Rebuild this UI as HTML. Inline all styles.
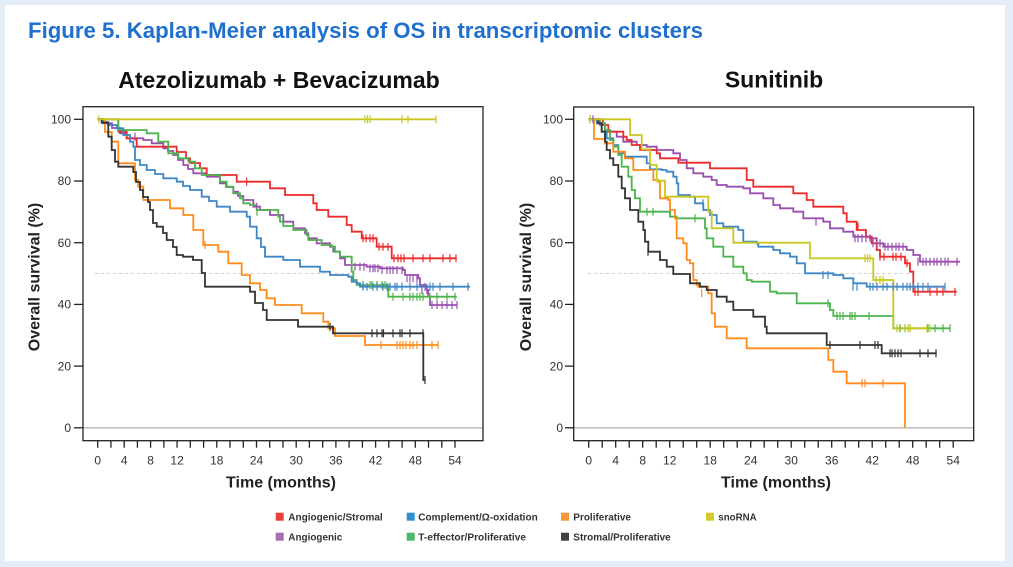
<!DOCTYPE html>
<html>
<head>
<meta charset="utf-8">
<style>
html,body{margin:0;padding:0;background:#e5eef8;}
svg{display:block;}
text{font-family:"Liberation Sans",Arial,sans-serif;}
</style>
</head>
<body>
<svg width="1013" height="567" viewBox="0 0 1013 567" xmlns="http://www.w3.org/2000/svg">
<rect x="0" y="0" width="1013" height="567" fill="#e5eef8"/>
<rect x="5" y="5" width="1000" height="556" fill="#ffffff"/>

<text x="28" y="38" font-size="22" font-weight="bold" fill="#1f6fcf" textLength="675" lengthAdjust="spacingAndGlyphs">Figure 5. Kaplan-Meier analysis of OS in transcriptomic clusters</text>

<text x="279" y="88" font-size="23" font-weight="bold" fill="#111" text-anchor="middle">Atezolizumab + Bevacizumab</text>
<text x="774" y="87.5" font-size="23" font-weight="bold" fill="#111" text-anchor="middle">Sunitinib</text>

<!-- ===== LEFT CHART ===== -->
<g>
<line x1="83" y1="427.8" x2="483" y2="427.8" stroke="#b5b5b5" stroke-width="1.3"/>
<line x1="95" y1="273.5" x2="355" y2="273.5" stroke="#d0d0d0" stroke-width="1" stroke-dasharray="3,3"/>
<g fill="none" stroke-width="1.8" stroke-linejoin="miter">
<path stroke="#9a4fb0" d="M97.7,119.3 H103.3 V123.3 H112 V128 H120 V133.3 H126.7 V138.3 H143.3 V140 H151.7 V143.3 H163.3 V148.3 H168 V151 H173.3 V155 H178 V160 H183.3 V165 H188 V169 H193.3 V173.3 H206.7 V176.7 H220 V183.3 H226 V187 H233.3 V191.7 H238 V196 H243.3 V200 H253.3 V206.7 H260 V210 H270 V215 H283.3 V221.7 H293.3 V228.3 H305 V233.3 H308.3 V238.3 H316.7 V243.3 H330 V246.7 H333.3 V251.7 H340 V258.3 H345 V265 H366.7 V266.7 H380 V268.3 H403.3 V270 H405 V275 H418.3 V278.3 H420 V285 H426.7 V290 H428.3 V296.7 H430 V305 H456.7"/>
<path stroke="#ee2a2a" d="M97.7,119.3 H118.3 V131.7 H126.7 V138.3 H136.7 V146.7 H176.7 V152 H186 V158.3 H190 V163 H200 V168.3 H206.7 V175 H236.7 V181.7 H270 V188.3 H285 V195 H313.3 V203.3 H316.7 V210 H328.3 V216.7 H346.7 V225 H351.7 V231.7 H361.7 V238.3 H376.7 V246.7 H391.7 V258.3 H456.7"/>
<path stroke="#4db34d" d="M97.7,119.3 H118.3 V130 H146.7 V133.3 H158.3 V141.7 H168.3 V153.3 H178.3 V158.3 H188.3 V161.7 H195 V168.3 H201.7 V175 H220 V181.7 H226.7 V186.7 H233.3 V193.3 H240 V198.3 H243.3 V203.3 H250 V205 H256.7 V210 H278.3 V216.7 H280 V221.7 H283.3 V226 H293.3 V230 H306.7 V235 H308.3 V240 H321.7 V245 H331.7 V246.7 H335 V251.7 H340 V256.7 H351.7 V271.7 H353.3 V280 H356.7 V285 H388.3 V296.7 H456.7"/>
<path stroke="#3f86c5" d="M97.7,119.3 H103 V122 H108 V125 H116.7 V128.3 H123.3 V135 H130 V141.7 H133.3 V146.7 H135 V160 H140 V165 H146.7 V170 H155 V174 H163.3 V178.3 H176.7 V181.7 H183 V186 H190 V190 H201.7 V196.7 H209 V201 H216.7 V206.7 H230 V211.7 H246.7 V216.7 H250 V226.7 H256.7 V238.3 H261 V247 H265 V256.7 H283.3 V260 H300 V266.7 H320 V271.7 H330 V275 H348.3 V276.7 H351.7 V281.7 H356.7 V283.3 H360 V286.7 H470"/>
<path stroke="#ff8c1a" d="M97.7,119.3 H105 V132 H111.7 V141.7 H118.3 V163.3 H135 V180 H138.3 V186.7 H143.3 V200 H170 V208.3 H183.3 V215 H193.3 V230 H203.3 V245 H218.3 V251.7 H228.3 V263.3 H241.7 V275 H250 V283.3 H260 V290 H266.7 V298.3 H275 V305 H301.7 V313.3 H323.3 V321.7 H328.3 V328.3 H335 V336 H365 V345 H438.3"/>
<path stroke="#333333" d="M97.7,119.3 H101.7 V122.7 H108.3 V136.7 H111.7 V150 H115 V161.7 H118.3 V166.7 H133.3 V172 H136 V182 H140 V190 H143 V197 H148 V202 H150 V210 H153 V223 H156.7 V226.7 H163 V233 H166.7 V240 H173 V247 H176.7 V255 H183 V256.7 H193 V260 H201.7 V273 H205 V286.7 H250 V291.7 H255 V303 H263 V310 H266.7 V320 H298 V326.7 H333 V333.3 H423.3 V380 H425"/>
<path stroke="#c8c81e" d="M97.7,119.3 H436"/>
</g>
<g fill="none" stroke-width="1.2">
<path stroke="#9a4fb0" d="M355,262.7v8M360,262.7v8M364,262.7v8M370,264.3v8M373,264.3v8M375,264.3v8M378,264.3v8M382,266v8M387,266v8M390,266v8M393,266v8M397,266v8M402,266v8M407,274.3v8M410,274.3v8M413,274.3v8M417,274.3v8M422,286v8M427,286v8M432,301v8M437,301v8M442,301v8M447,301v8M452,301v8M457,301v8M135,132.7v8M256.7,202.7v8"/>
<path stroke="#ee2a2a" d="M363,234.3v8M366,234.3v8M370,234.3v8M373,234.3v8M379,242.7v8M383,242.7v8M388,242.7v8M394,254.3v8M398,254.3v8M401,254.3v8M404,254.3v8M413,254.3v8M423,254.3v8M430,254.3v8M443,254.3v8M450,254.3v8M456,254.3v8M246.7,177.7v8"/>
<path stroke="#4db34d" d="M363,281v8M370,281v8M372,281v8M377,281v8M382,281v8M385,281v8M393,292.7v8M403,292.7v8M410,292.7v8M413,292.7v8M417,292.7v8M420,292.7v8M423,292.7v8M430,292.7v8M437,292.7v8M447,292.7v8M455,292.7v8M257,207.7v8"/>
<path stroke="#3f86c5" d="M363,282.7v8M367,282.7v8M373,282.7v8M377,282.7v8M383,282.7v8M387,282.7v8M390,282.7v8M395,282.7v8M397,282.7v8M402,282.7v8M410,282.7v8M417,282.7v8M425,282.7v8M430,282.7v8M433,282.7v8M440,282.7v8M453,282.7v8M468,282.7v8"/>
<path stroke="#ff8c1a" d="M381,341v8M397,341v8M400,341v8M403,341v8M406,341v8M410,341v8M413,341v8M417,341v8M432,341v8M438,341v8M205,241v8"/>
<path stroke="#333333" d="M372,329.3v8M377,329.3v8M382,329.3v8M383.5,329.3v8M393,329.3v8M400,329.3v8M402,329.3v8M410,329.3v8M423,329.3v8M330,322.7v8M425,376v8"/>
<path stroke="#c8c81e" d="M99,115.3v8M365,115.3v8M367.5,115.3v8M370,115.3v8M402,115.3v8M408,115.3v8M436,115.3v8"/>
</g>
<rect x="83" y="106.7" width="400" height="334" fill="none" stroke="#222" stroke-width="1.3"/>
<g stroke="#222" stroke-width="1.3">
<line x1="74" y1="427.8" x2="83" y2="427.8"/>
<line x1="74" y1="366.1" x2="83" y2="366.1"/>
<line x1="74" y1="304.4" x2="83" y2="304.4"/>
<line x1="74" y1="242.7" x2="83" y2="242.7"/>
<line x1="74" y1="181" x2="83" y2="181"/>
<line x1="74" y1="119.3" x2="83" y2="119.3"/>
<path d="M97.7,440.7v7M110.9,440.7v7M124.2,440.7v7M137.4,440.7v7M150.6,440.7v7M163.9,440.7v7M177.1,440.7v7M190.3,440.7v7M203.6,440.7v7M216.8,440.7v7M230,440.7v7M243.3,440.7v7M256.5,440.7v7M269.7,440.7v7M283,440.7v7M296.2,440.7v7M309.4,440.7v7M322.7,440.7v7M335.9,440.7v7M349.1,440.7v7M362.4,440.7v7M375.6,440.7v7M388.8,440.7v7M402.1,440.7v7M415.3,440.7v7M428.5,440.7v7M441.8,440.7v7M455,440.7v7"/>
</g>
<g font-size="12" fill="#333" text-anchor="end">
<text x="71" y="432">0</text>
<text x="71" y="370.3">20</text>
<text x="71" y="308.6">40</text>
<text x="71" y="246.9">60</text>
<text x="71" y="185.2">80</text>
<text x="71" y="123.5">100</text>
</g>
<g font-size="12" fill="#333" text-anchor="middle">
<text x="97.7" y="464.5">0</text>
<text x="124.2" y="464.5">4</text>
<text x="150.6" y="464.5">8</text>
<text x="177.1" y="464.5">12</text>
<text x="216.8" y="464.5">18</text>
<text x="256.5" y="464.5">24</text>
<text x="296.2" y="464.5">30</text>
<text x="335.9" y="464.5">36</text>
<text x="375.6" y="464.5">42</text>
<text x="415.3" y="464.5">48</text>
<text x="455" y="464.5">54</text>
</g>
<text x="281" y="487.5" font-size="16" font-weight="bold" fill="#222" text-anchor="middle">Time (months)</text>
<text transform="translate(39.5,277) rotate(-90)" font-size="16" font-weight="bold" fill="#222" text-anchor="middle">Overall survival (%)</text>
</g>

<!-- ===== RIGHT CHART ===== -->
<g>
<line x1="573.7" y1="427.8" x2="973.7" y2="427.8" stroke="#b5b5b5" stroke-width="1.3"/>
<line x1="588" y1="273.5" x2="910" y2="273.5" stroke="#d0d0d0" stroke-width="1" stroke-dasharray="3,3"/>
<g fill="none" stroke-width="1.8">
<path stroke="#9a4fb0" d="M588.7,119.3 H600 V125 H605 V130 H610 V131.7 H616.7 V136.7 H623.3 V141.7 H636.7 V145 H646.7 V146.7 H656.7 V150 H673.3 V153.3 H680 V160 H686.7 V168.3 H693.3 V173.3 H703.3 V176.7 H711.7 V180 H716.7 V185 H726.7 V186.7 H743.3 V188.3 H750 V193.3 H763.3 V198.3 H773.3 V205 H780 V208.3 H793.3 V211.7 H803.3 V218.3 H823.3 V221.7 H830 V228.3 H843.3 V231.7 H853.3 V236.7 H870 V238.3 H876.7 V243.3 H883.3 V246.7 H906.7 V250 H913.3 V255 H920 V261.7 H960"/>
<path stroke="#ee2a2a" d="M588.7,119.3 H603 V125 H608.3 V131.7 H623.3 V136.7 H626.7 V140 H631.7 V145 H640 V150 H656.7 V153.3 H660 V158.3 H678.3 V162.7 H710 V168.3 H746.7 V180 H753.3 V186.7 H793.3 V193.3 H806.7 V200 H813.3 V206.7 H843.3 V213.3 H846.7 V221.7 H856.7 V230 H866 V236.7 H871.7 V243.3 H876.7 V250 H880 V256.7 H905 V263.3 H910 V271.7 H913.3 V291.7 H956.7"/>
<path stroke="#3f86c5" d="M588.7,119.3 H596.7 V123.3 H601.7 V131.7 H606.7 V138.3 H613.3 V145 H618.3 V153.3 H625 V156.7 H646.7 V163.3 H650 V169.3 H661.7 V170 H666.7 V171.7 H673.3 V176.7 H676.7 V183.3 H678.3 V195 H690 V196.7 H695 V203.3 H703.3 V210 H710 V215 H716.7 V223.3 H723.3 V226.7 H738.3 V230 H743.3 V241.7 H756.7 V243.3 H758.3 V246.7 H773.3 V250 H780 V253.3 H790 V256.7 H796.7 V263.3 H805 V273.3 H833.3 V275 H843.3 V278.3 H853.3 V283.3 H866.7 V286.7 H945"/>
<path stroke="#4db34d" d="M588.7,119.3 H600 V123.3 H605 V130 H610 V140 H613.3 V146.7 H618.3 V155 H621.7 V166.7 H628.3 V176.7 H631.7 V190 H635 V198.3 H640 V211.7 H670 V216.7 H676.7 V218.3 H705 V228.3 H706.7 V238.3 H713.3 V246.7 H723.3 V256.7 H733.3 V266.7 H743.3 V273.3 H746.7 V280 H751.7 V281.7 H770 V291.7 H776.7 V293.3 H796.7 V303.3 H830 V310 H833.3 V316 H893.3 V328.3 H950"/>
<path stroke="#ff8c1a" d="M588.7,119.3 H593.3 V121.7 H594 V139 H605 V143.3 H613.3 V151.7 H625 V158.3 H633.3 V170 H653.3 V180 H658.3 V181.7 H660 V198.3 H668.3 V200 H670 V210 H675 V218.3 H676.7 V238.3 H683.3 V243.3 H686.7 V260 H690 V263.3 H693.3 V280 H696.7 V285 H698.3 V286.7 H708.3 V293.3 H711.7 V313.3 H715 V326.7 H726.7 V338.3 H746.7 V348.3 H828.3 V360 H833.3 V371.7 H846.7 V383.3 H905 V428"/>
<path stroke="#333333" d="M588.7,119.3 H598.3 V123.3 H601.7 V131.7 H605 V141.7 H606.7 V150 H610 V158.3 H613.3 V165 H618.3 V176.7 H621.7 V188.3 H625 V198.3 H630 V210 H638.3 V221.7 H643.3 V230 H645 V241.7 H648.3 V251.7 H660 V260 H666.7 V266.7 H673.3 V274 H690 V283.3 H700 V286.7 H706.7 V290 H716.7 V296.7 H726.7 V301.7 H733.3 V310 H753.3 V316.7 H765 V326.7 H766.7 V333.3 H826.7 V345 H881.7 V353.3 H936.7"/>
<path stroke="#c8c81e" d="M588.7,119.3 H630 V135 H641.7 V149.3 H650 V165 H656.7 V180.7 H665 V196.7 H708.3 V211.7 H711.7 V228.3 H733.3 V242.7 H810 V258.3 H873.3 V280 H893.3 V328.3 H930"/>
</g>
<g fill="none" stroke-width="1.2">
<path stroke="#9a4fb0" d="M855,234.3v8M858,234.3v8M862,234.3v8M866,234.3v8M870,234.3v8M873,239.3v8M877,239.3v8M880,239.3v8M885,242.7v8M888,242.7v8M892,242.7v8M896,242.7v8M899,242.7v8M903,242.7v8M918,257.7v8M923,257.7v8M926,257.7v8M930,257.7v8M934,257.7v8M937,257.7v8M941,257.7v8M945,257.7v8M948,257.7v8M957,257.7v8M590,115.3v8M593,115.3v8M816,217.7v8"/>
<path stroke="#ee2a2a" d="M858,222.7v8M880,252.7v8M884,252.7v8M893,252.7v8M896,252.7v8M901,252.7v8M907,259.3v8M915,287.7v8M918,287.7v8M930,287.7v8M937,287.7v8M943,287.7v8M955,287.7v8"/>
<path stroke="#3f86c5" d="M823,271v8M828,271v8M853,282.7v8M857,282.7v8M870,282.7v8M873,282.7v8M877,282.7v8M883,282.7v8M887,282.7v8M893,282.7v8M897,282.7v8M903,282.7v8M907,282.7v8M910,282.7v8M913,282.7v8M918,282.7v8M923,282.7v8M928,282.7v8M945,282.7v8M703,199.3v8"/>
<path stroke="#4db34d" d="M647,207.7v8M653,207.7v8M695,214.3v8M828,299.3v8M837,312v8M840,312v8M843,312v8M850,312v8M852,312v8M855,312v8M869,312v8M900,324.3v8M905,324.3v8M910,324.3v8M928,324.3v8M935,324.3v8M943,324.3v8M950,324.3v8"/>
<path stroke="#ff8c1a" d="M862,379.3v8M865,379.3v8M883,379.3v8M701.7,289.3v8"/>
<path stroke="#333333" d="M830,341v8M860,341v8M875,341v8M878,341v8M890,349.3v8M892,349.3v8M895,349.3v8M898,349.3v8M901,349.3v8M920,349.3v8M928,349.3v8M936,349.3v8M648,247.7v8"/>
<path stroke="#c8c81e" d="M865,254.3v8M867.5,254.3v8M870,254.3v8M876,276v8M880,276v8M883,276v8M897,324.3v8M905,324.3v8M908,324.3v8M910,324.3v8M927,324.3v8M930,324.3v8M590,115.3v8"/>
</g>
<rect x="573.7" y="107" width="400" height="333.7" fill="none" stroke="#222" stroke-width="1.3"/>
<g stroke="#222" stroke-width="1.3">
<line x1="565" y1="427.8" x2="573.7" y2="427.8"/>
<line x1="565" y1="366.1" x2="573.7" y2="366.1"/>
<line x1="565" y1="304.4" x2="573.7" y2="304.4"/>
<line x1="565" y1="242.7" x2="573.7" y2="242.7"/>
<line x1="565" y1="181" x2="573.7" y2="181"/>
<line x1="565" y1="119.3" x2="573.7" y2="119.3"/>
<path d="M588.7,440.7v7M602.2,440.7v7M615.7,440.7v7M629.2,440.7v7M642.7,440.7v7M656.2,440.7v7M669.7,440.7v7M683.2,440.7v7M696.7,440.7v7M710.2,440.7v7M723.7,440.7v7M737.2,440.7v7M750.7,440.7v7M764.2,440.7v7M777.7,440.7v7M791.2,440.7v7M804.7,440.7v7M818.2,440.7v7M831.7,440.7v7M845.2,440.7v7M858.7,440.7v7M872.2,440.7v7M885.7,440.7v7M899.2,440.7v7M912.7,440.7v7M926.2,440.7v7M939.7,440.7v7M953.2,440.7v7"/>
</g>
<g font-size="12" fill="#333" text-anchor="end">
<text x="563" y="432">0</text>
<text x="563" y="370.3">20</text>
<text x="563" y="308.6">40</text>
<text x="563" y="246.9">60</text>
<text x="563" y="185.2">80</text>
<text x="563" y="123.5">100</text>
</g>
<g font-size="12" fill="#333" text-anchor="middle">
<text x="588.7" y="464.5">0</text>
<text x="615.7" y="464.5">4</text>
<text x="642.7" y="464.5">8</text>
<text x="669.7" y="464.5">12</text>
<text x="710.2" y="464.5">18</text>
<text x="750.7" y="464.5">24</text>
<text x="791.2" y="464.5">30</text>
<text x="831.7" y="464.5">36</text>
<text x="872.2" y="464.5">42</text>
<text x="912.7" y="464.5">48</text>
<text x="953.2" y="464.5">54</text>
</g>
<text x="776" y="487.5" font-size="16" font-weight="bold" fill="#222" text-anchor="middle">Time (months)</text>
<text transform="translate(531,277) rotate(-90)" font-size="16" font-weight="bold" fill="#222" text-anchor="middle">Overall survival (%)</text>
</g>

<!-- ===== LEGEND ===== -->
<g font-size="10" font-weight="bold" fill="#333">
<rect x="275.7" y="512.7" width="8" height="8" fill="#e8413f"/>
<text x="288.3" y="520.5" textLength="94.4" lengthAdjust="spacingAndGlyphs">Angiogenic/Stromal</text>
<rect x="406.7" y="512.7" width="8" height="8" fill="#2f8fd0"/>
<text x="418.3" y="520.5" textLength="119.4" lengthAdjust="spacingAndGlyphs">Complement/Ω-oxidation</text>
<rect x="561" y="512.7" width="8" height="8" fill="#f7953a"/>
<text x="573.3" y="520.5" textLength="57.7" lengthAdjust="spacingAndGlyphs">Proliferative</text>
<rect x="706" y="512.7" width="8" height="8" fill="#d4c92b"/>
<text x="718.3" y="520.5" textLength="38.4" lengthAdjust="spacingAndGlyphs">snoRNA</text>
<rect x="275.7" y="532.7" width="8" height="8" fill="#a86bb5"/>
<text x="288.3" y="540.3" textLength="54" lengthAdjust="spacingAndGlyphs">Angiogenic</text>
<rect x="406.7" y="532.7" width="8" height="8" fill="#4cb86a"/>
<text x="418.3" y="540.3" textLength="107.7" lengthAdjust="spacingAndGlyphs">T-effector/Proliferative</text>
<rect x="561" y="532.7" width="8" height="8" fill="#3d4347"/>
<text x="573.3" y="540.3" textLength="97.4" lengthAdjust="spacingAndGlyphs">Stromal/Proliferative</text>
</g>
</svg>
</body>
</html>
